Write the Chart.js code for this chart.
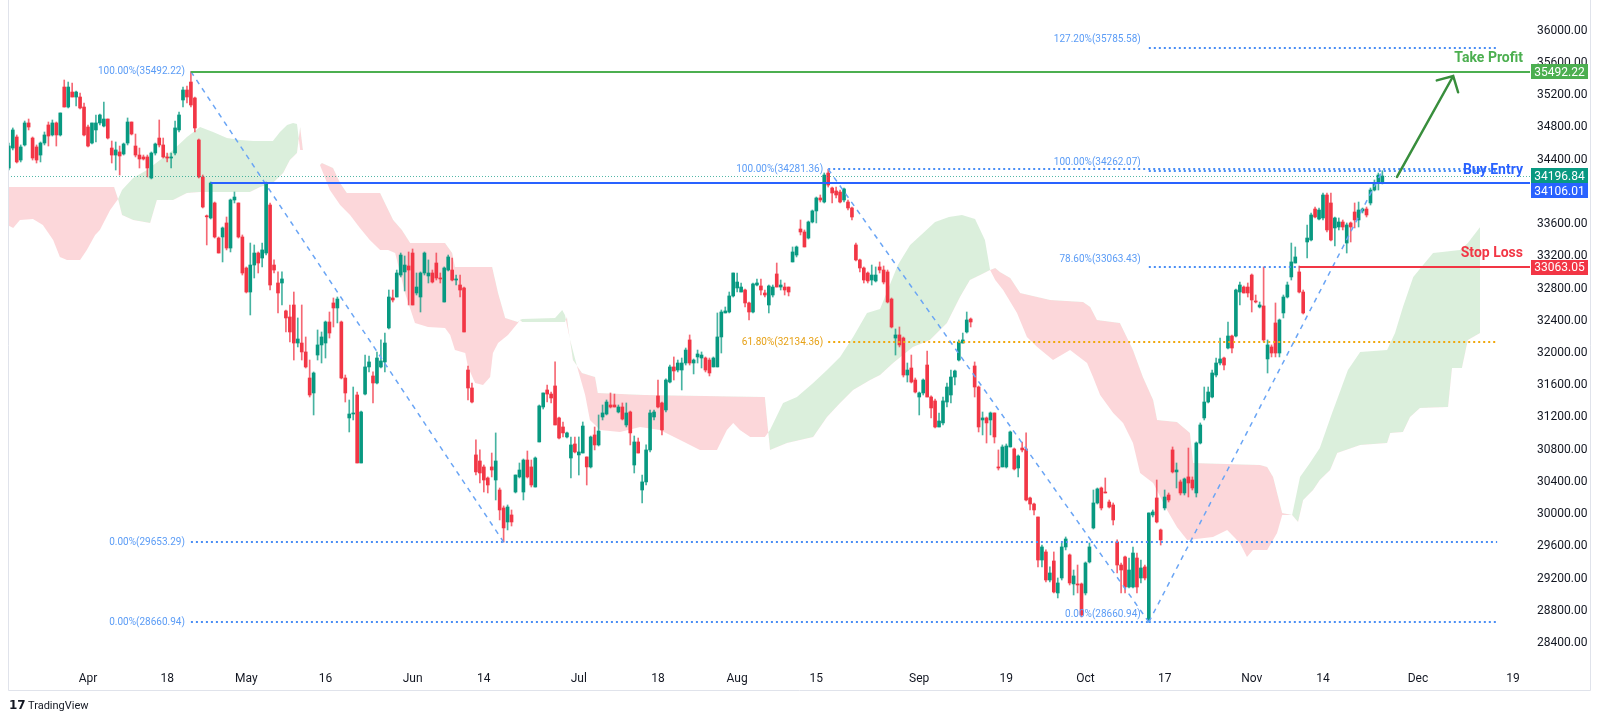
<!DOCTYPE html>
<html>
<head>
<meta charset="utf-8">
<script src="https://cdn.jsdelivr.net/npm/chart.js@4"></script>
<style>
  html, body { margin: 0; padding: 0; background: #fff; }
  canvas { display: block; }
</style>
</head>
<body>
<canvas id="chart" width="1600" height="721"></canvas>
<script>
// half-day candles, bar 0 is the first candle on the left, bar 20 = Apr 1
const open = [
34296,34544,34681,34395,34582,34855,34668,34557,34457,34606,
34830,34706,34855,34706,35301,35053,35239,35177,35177,35053,
34805,34606,34768,34855,34817,34904,34544,34457,34495,34470,
34606,34867,34569,34457,34433,34433,34172,34482,34668,34582,
34433,34420,34482,34768,35140,35264,35363,35165,34644,34185,
33700,33676,33862,33427,33440,33614,33303,33899,33862,33440,
33055,32757,33092,33241,33179,33241,33837,33092,32869,32869,
32522,32447,32596,32124,32124,32013,31690,31504,31975,32100,
32124,32385,32621,32559,32385,31690,31194,31243,31479,30635,
31491,31827,31715,31628,31827,31889,32311,32683,32695,32968,
33006,33080,33241,32745,32695,32993,32956,32993,33117,32931,
32633,33030,33030,32906,32844,32807,31789,31566,30735,30660,
30586,30449,30586,30424,30300,30077,29903,29990,30275,30462,
30275,30672,30586,30337,30896,31330,31541,31491,31591,31194,
31082,30958,30697,30871,30735,30759,30710,30586,30983,30859,
31206,31243,31355,31355,31268,31330,31107,31268,30610,30896,
30300,30400,30797,31206,31467,31380,31293,31640,31827,31789,
31789,31876,32162,31876,31951,31938,31938,31913,31827,31827,
32199,32497,32509,32708,32807,32757,32782,32621,32509,32844,
32832,32745,32596,32720,32981,32819,32819,32819,33130,33216,
33539,33502,33427,33626,33763,33924,33874,34234,34048,34011,
33998,33899,33874,33800,33341,33155,33055,32993,32906,32894,
33068,33030,33006,32670,32186,32224,32186,31727,31814,31665,
31454,31504,31851,31454,31405,31082,31132,31392,31479,31702,
31913,32124,32261,32422,31839,31578,31169,31194,31169,31256,
30586,30586,30586,30834,30809,30573,30821,30809,30201,30126,
29965,29431,29531,29183,29419,29022,29208,29593,29494,29134,
29134,29134,29022,29407,29829,30139,30325,30275,30151,30114,
29655,29369,29469,29096,29096,29456,29208,29345,28687,29990,
30201,29804,30077,30238,30797,30524,30400,30263,30462,30424,
30263,30883,31194,31392,31454,31727,31876,31938,32062,32211,
32211,32757,32819,32819,32968,32646,32571,32584,31926,32075,
32373,32000,32497,32695,32944,33117,33006,32757,33378,33403,
33787,33663,33676,33961,33862,33552,33564,33626,33365,33614,
33750,33651,33763,33787,33862,34023,34110,34110
];
const high = [
34606,34793,34706,34582,34879,34904,34681,34582,34619,34743,
34867,34892,34867,34979,35388,35363,35351,35252,35227,35103,
34830,34855,34954,34966,35115,34904,34631,34619,34569,34606,
34917,34867,34718,34544,34457,34457,34495,34606,34892,34668,
34482,34482,34879,34991,35301,35314,35492.22,35177,34656,34209,
33713,34122,33874,33440,33564,33688,33911,33998,33862,33465,
33068,33365,33341,33254,33365,34122,33862,33155,33006,33006,
32534,32596,32757,32435,32596,32199,31913,31765,32286,32261,
32397,32509,32683,32695,32397,31727,31417,31578,31516,31280,
31975,31963,31765,32013,32162,32248,32782,32782,33030,33241,
33204,33254,33291,32993,33006,33254,33155,33030,33241,32993,
33068,33216,33179,32968,32968,32819,31839,31628,30921,30797,
30610,30462,30759,31008,30325,30102,30114,30052,30486,30635,
30685,30784,30672,30710,31355,31504,31603,31516,31889,31206,
31144,31020,30958,30958,30958,31144,30710,30970,31082,31231,
31355,31417,31504,31491,31355,31380,31380,31280,30970,30945,
30486,30859,31293,31293,31665,31392,31678,31851,31951,31913,
31938,32062,32224,31926,32037,32013,31951,31938,31951,32497,
32534,32571,32757,32993,32993,32869,32794,32633,32869,32919,
32919,32782,32844,32844,33117,32906,32869,32819,33316,33328,
33651,33527,33638,33775,33936,33961,34234,34281.36,34060,34060,
34023,34048,33899,33812,33365,33167,33068,33006,33092,33068,
33130,33080,33030,32683,32298,32323,32199,31876,31975,31690,
31516,31678,32025,31467,31429,31256,31454,31628,31789,31789,
32162,32248,32509,32435,31889,31591,31268,31206,31268,31256,
30797,30859,30871,31032,30821,30735,30896,31008,30213,30139,
29965,29617,29556,29345,29531,29208,29642,29717,29506,29307,
29369,29146,29407,29642,30300,30325,30337,30449,30176,30139,
29680,29394,29481,29456,29593,29518,29431,29369,30015,30052,
30424,29816,30300,30263,30834,30635,30424,30449,30821,30462,
30896,31132,31578,31578,31789,31938,32186,31951,32385,32224,
32794,32881,32832,32869,32981,32720,32633,33068,32162,32100,
32621,32422,32720,32881,33365,33316,33080,32782,33589,33738,
33812,33800,33986,33986,33986,33688,33676,33651,33614,33626,
33862,33874,33800,33812,34048,34147,34234,34262.07
];
const low = [
34271,34520,34358,34371,34569,34768,34395,34358,34371,34582,
34569,34693,34569,34693,35053,35041,35177,35066,35028,34693,
34557,34594,34619,34830,34805,34656,34358,34271,34209,34457,
34582,34706,34433,34296,34395,34185,34160,34457,34557,34420,
34371,34296,34457,34743,35053,35103,35053,34743,34172,33800,
33341,33663,33427,33241,33130,33279,33254,33862,33427,32968,
32745,32472,32931,32993,33068,33216,32782,32993,32497,32596,
32261,32137,31913,32075,31913,31814,31454,31231,31913,31876,
31938,32186,32323,32373,31678,31392,31020,31169,30635,30635,
31479,31765,31380,31616,31814,31765,32298,32633,32695,32944,
32770,32596,32596,32720,32509,32968,32869,32869,32906,32869,
32633,33018,32894,32844,32695,32261,31417,31380,30486,30387,
30275,30263,30462,30176,29928,29653.29,29804,29853,30263,30449,
30176,30449,30337,30337,30896,31305,31392,31380,31107,30933,
30958,30945,30449,30759,30486,30759,30362,30573,30797,30846,
31169,31231,31318,31330,31256,31169,31082,30859,30511,30759,
30139,30362,30772,31169,31318,30983,31268,31628,31665,31765,
31541,31851,31851,31740,31876,31814,31765,31715,31827,31827,
32000,32497,32497,32695,32757,32757,32571,32410,32497,32832,
32720,32695,32497,32695,32819,32782,32720,32708,33130,33192,
33465,33316,33415,33614,33614,33874,33862,34060,33862,33924,
33862,33874,33775,33651,33142,33006,32869,32869,32844,32881,
32993,32857,32621,32311,31975,32075,31702,31640,31628,31504,
31231,31479,31454,31194,31070,31082,31107,31330,31380,31603,
31901,32124,32248,32323,31454,31020,30983,30883,30983,30883,
30548,30586,30573,30834,30548,30462,30772,30164,30052,29990,
29345,29345,29158,29158,29022,28960,29183,29556,29121,28997,
29022,28724,28997,29394,29816,30126,30052,30263,30077,29866,
29270,29022,29022,29084,29084,29022,29146,29183,28660.94,29965,
29891,29617,30052,30151,30511,30325,30238,30238,30213,30300,
30213,30871,31169,31380,31442,31702,31851,31789,32050,32000,
32199,32596,32745,32695,32509,32621,32559,32137,31752,31951,
31951,31951,32435,32683,32906,33117,32745,32484,33179,33390,
33676,33651,33651,33502,33390,33328,33527,33527,33241,33378,
33552,33564,33738,33688,33837,34011,34023,34098
];
const close = [
34569,34768,34371,34557,34855,34805,34420,34395,34606,34706,
34693,34855,34706,34979,35053,35301,35177,35239,35041,34706,
34569,34855,34855,34954,34904,34668,34457,34520,34445,34594,
34867,34718,34457,34408,34408,34296,34482,34594,34582,34433,
34420,34433,34793,34954,35264,35177,35078,34793,34185,33812,
33690,34110,33440,33241,33552,33303,33899,33936,33440,32993,
32757,33092,33241,33117,33279,34110,32844,33030,32745,32919,
32435,32261,32124,32174,32013,31827,31479,31752,32100,32199,
32385,32248,32559,32670,31690,31504,31243,31256,30635,31268,
31827,31889,31628,31938,31901,32124,32695,32658,32993,33216,
33092,33030,32596,32819,32993,33241,32993,32881,32931,32919,
33055,33192,32906,32919,32782,32261,31566,31392,30524,30511,
30424,30362,30548,30660,30052,29829,30089,29903,30486,30548,
30672,30462,30362,30697,31343,31504,31491,31442,31107,30945,
31008,31008,30859,30772,30772,31094,30586,30958,30859,31032,
31256,31392,31330,31330,31330,31181,31256,31008,30896,30759,
30400,30797,31256,31268,31330,31045,31665,31827,31777,31876,
31876,32037,31876,31913,31988,31975,31789,31752,31938,32199,
32509,32522,32708,32993,32881,32819,32621,32509,32857,32869,
32782,32720,32832,32819,32819,32844,32782,32757,33254,33316,
33502,33316,33626,33763,33924,33899,34209,34085,33986,33961,
33874,34036,33800,33688,33155,33055,32906,32894,32968,32968,
33030,32881,32633,32323,32224,32100,31727,31789,31640,31516,
31504,31665,31454,31318,31082,31156,31405,31578,31702,31777,
32137,32162,32410,32385,31578,31082,31194,31132,31256,30958,
30573,30834,30846,31020,30561,30722,30797,30176,30126,30052,
29431,29593,29183,29270,29034,29146,29593,29692,29146,29233,
29121,28749,29394,29593,30139,30313,30077,30263,30089,29928,
29369,29307,29096,29307,29518,29096,29332,29208,30015,30027,
29903,29680,30213,30176,30524,30548,30263,30437,30387,30325,
30883,31107,31392,31516,31752,31876,31926,31851,32211,32062,
32782,32844,32745,32745,32658,32633,32596,32162,32100,32000,
32000,32410,32695,32844,33130,33192,32757,32497,33427,33713,
33688,33775,33961,33527,33403,33676,33626,33564,33589,33564,
33651,33775,33787,33713,34023,34110,34209,34196.84
];

// Ichimoku cloud edges (bar position, price)
const spanAx = [-0.3,1.1,2.8,6.1,8.6,11.2,12.9,14.7,18.0,19.7,21.8,23.0,25.6,27.6,
  28.6,31.4,34.9,38.2,41.5,45.0,48.3,51.6,55.1,58.4,61.7,66.7,68.5,70.3,71.8,72.8,73.6,74.3,78.6,
  79.1,81.1,83.7,86.2,88.7,91.2,93.8,95.8,97.6,100.1,102.6,105.9,110.2,111.5,112.7,115.3,116.0,117.8,119.8,121.6,122.3,123.6,126.1,128.6,129.1,
  129.7,138.0,139.8,140.5,
  141.0,141.8,143.8,145.6,146.8,149.4,154.4,159.5,164.5,169.6,174.6,178.9,181.4,183.0,184.7,187.3,191.0,
  192.3,195.6,199.1,203.2,206.7,210.0,213.3,216.8,220.1,224.6,227.7,231.0,234.0,237.5,240.8,244.1,246.6,247.9,
  249.2,251.2,254.7,257.2,259.8,263.8,268.1,272.4,273.9,275.7,279.0,281.5,284.0,285.8,289.1,292.6,295.1,297.7,304.2,307.8,311.0,312.8,314.3,317.9,320.4,321.7,
  324.2,326.2,328.7,331.2,334.3,335.8,338.3,341.4,348.2,350.2,352.2,354.8,359.8,362.1,366.6,368.6,371.7];
const spanAy = [33589,33552,33651,33663,33589,33403,33192,33155,33155,33279,33465,33527,33775,33911,
  34023,34172,34271,34395,34520,34681,34805,34743,34668,34644,34631,34631,34743,34830,34855,34842,34520,34520,34333,
  34271,34023,33837,33713,33552,33403,33279,33279,33241,32745,32373,32323,32311,32224,32037,32000,31827,31628,31603,31702,32000,32124,32224,32373,32410,
  32422,32435,32534,32472,
  32348,32162,31789,31479,31169,31045,31020,31082,31045,30921,30797,30797,31045,31132,31045,30958,30958,
  31045,31380,31454,31628,31789,31951,32199,32497,32546,33092,33341,33489,33626,33688,33713,33663,33403,33030,
  32906,32782,32497,32199,32075,31913,32037,31876,31702,31479,31256,31132,30883,30511,30387,30052,29841,29680,29717,29804,29642,29469,29556,29556,29767,29990,
  29990,30462,30635,30821,31256,31454,31789,32013,32037,32248,32571,32944,33241,33254,33279,33365,33564];
const spanBx = [-0.3,26.6,27.6,
  28.6,31.4,35.7,37.4,41.5,45.0,48.3,60.9,63.5,66.7,69.3,71.0,72.8,73.6,74.3,78.6,
  79.1,81.9,83.7,85.4,93.8,95.5,97.1,99.3,101.4,110.2,112.0,112.7,122.1,123.6,125.4,128.6,129.1,
  129.7,140.5,
  141.0,141.3,142.5,144.8,148.1,148.8,160.7,191.0,
  192.3,196.6,203.2,206.7,210.0,213.3,217.6,220.1,223.4,228.4,232.7,237.0,240.3,242.8,245.4,247.9,
  249.2,250.4,253.0,255.5,263.1,271.4,273.2,274.9,280.7,284.0,286.5,289.1,290.1,295.1,298.4,299.2,316.1,317.9,319.4,321.7,
  324.2,325.7,327.0,329.5,331.2,333.8,335.6,341.4,348.2,349.0,352.2,354.0,356.5,363.6,364.6,367.1,368.6,371.7];
const spanBy = [34060,34060,33911,
  33713,33651,33614,33899,33899,33986,33998,33998,34060,34110,34234,34395,34482,34805,34520,34333,
  34358,34296,34110,33986,33986,33812,33651,33527,33365,33365,33241,33068,33068,32745,32435,32385,32410,
  32385,32385,
  32447,32323,31913,31752,31702,31504,31479,31454,
  30797,30883,30958,31206,31380,31541,31665,31727,31876,32075,32162,32373,32695,32906,32968,33030,
  33055,33006,32931,32745,32658,32633,32571,32410,32373,32037,31702,31417,31169,31144,31008,30635,30610,30586,30462,30015,
  29990,29903,30176,30300,30424,30548,30759,30859,30883,31008,31020,31206,31318,31330,31814,31814,32162,32248];

// time axis and price axis labels
const timeTickBars = [20,40,60,80,102,120,144,164,184,204,230,252,272,292,314,332,356,380];
const timeTickLabels = ['Apr','18','May','16','Jun','14','Jul','18','Aug','15','Sep','19','Oct','17','Nov','14','Dec','19'];
const priceTicks = [28400,28800,29200,29600,30000,30400,30800,31200,31600,32000,32400,32800,33200,33600,34000,34400,34800,35200,35600,36000];

// fibonacci levels: [price, text]
const fibFirst = [[35492.22,'100.00%(35492.22)'],[29653.29,'0.00%(29653.29)'],[28660.94,'0.00%(28660.94)']];
const fibSecond = [[34281.36,'100.00%(34281.36)'],[32134.36,'61.80%(32134.36)']];
const fibThird = [[35785.58,'127.20%(35785.58)'],[34262.07,'100.00%(34262.07)'],[33063.43,'78.60%(33063.43)'],[28660.94,'0.00%(28660.94)']];
const fibStartBars = [46, 207, 288];
const fibEndBar = 376;

// trend lines [bar, price] -> [bar, price]
const trendLines = [
  [[46,35492.22],[125,29653.29]],
  [[207,34281.36],[288,28660.94]],
  [[288,28660.94],[347,34262.07]]
];

// trade plan
const takeProfit = 35492.22, takeProfitBar = 46;
const buyEntry = 34106.01, buyEntryBar = 51;
const stopLoss = 33063.05, stopLossBar = 326;
const lastPrice = close[close.length - 1];
const arrowFrom = [350.7, 34185], arrowTo = [364.9, 35438];

const UP = '#089981', DOWN = '#f23645';
const isUp = open.map((o, i) => close[i] >= o);

const bodies = open.map((o, i) => ({x: i, y: [o, close[i]]}));
const wicks = open.map((o, i) => ({x: i, y: [low[i], high[i]]}));

const overlay = {
  id: 'overlay',
  beforeDraw(chart) {
    const ctx = chart.ctx;
    ctx.save();
    ctx.fillStyle = '#fff';
    ctx.fillRect(0, 0, chart.width, chart.height);
    ctx.restore();
  },
  afterDatasetsDraw(chart) {
    const {ctx, chartArea: a, scales: {x, y}} = chart;
    const X = v => x.getPixelForValue(v);
    const Y = v => y.getPixelForValue(v);
    ctx.save();
    ctx.beginPath();
    ctx.rect(a.left, a.top, a.right - a.left, a.bottom - a.top);
    ctx.clip();

    function level(p, from, to, color, width, dash) {
      const yy = width % 2 ? Math.round(Y(p)) + 0.5 : Math.round(Y(p));
      ctx.strokeStyle = color;
      ctx.lineWidth = width;
      ctx.setLineDash(dash);
      ctx.beginPath();
      ctx.moveTo(from, yy);
      ctx.lineTo(to, yy);
      ctx.stroke();
    }
    function label(text, px, py, color, font, align) {
      ctx.setLineDash([]);
      ctx.font = font;
      ctx.fillStyle = color;
      ctx.textAlign = align;
      ctx.textBaseline = 'middle';
      ctx.fillText(text, px, py);
    }

    const blueDots = '#4a8ef5', blueText = '#5b9cf6';
    const orangeDots = '#f0a80c', orangeText = '#e6a117';
    const fibFont = '10px Roboto';

    // last price line
    level(lastPrice, a.left, a.right, 'rgba(8,153,129,0.7)', 1, [1, 2]);

    fibFirst.forEach(([p, t]) => {
      const end = p === fibThird[3][0] ? X(fibStartBars[2]) : X(fibEndBar);
      level(p, X(fibStartBars[0]), end, blueDots, 2, [2, 3]);
      label(t, X(fibStartBars[0]) - 6, Y(p), blueText, fibFont, 'right');
    });
    fibSecond.forEach(([p, t], k) => {
      const dots = k === 1 ? orangeDots : blueDots;
      const txt = k === 1 ? orangeText : blueText;
      level(p, X(fibStartBars[1]), X(fibEndBar), dots, 2, [2, 3]);
      label(t, X(fibStartBars[1]) - 5, Y(p), txt, fibFont, 'right');
    });
    fibThird.forEach(([p, t]) => {
      level(p, X(fibStartBars[2]), X(fibEndBar), blueDots, 2, [2, 3]);
      label(t, X(fibStartBars[2]) - 8, Y(p) - 8, blueText, fibFont, 'right');
    });

    // dashed trend lines
    ctx.strokeStyle = '#6aa5f5';
    ctx.lineWidth = 1.5;
    ctx.setLineDash([5, 5]);
    trendLines.forEach(([s, e]) => {
      ctx.beginPath();
      ctx.moveTo(X(s[0]), Y(s[1]));
      ctx.lineTo(X(e[0]), Y(e[1]));
      ctx.stroke();
    });

    // trade levels
    level(takeProfit, X(takeProfitBar), a.right, '#4caf50', 2, []);
    level(buyEntry, X(buyEntryBar), a.right, '#2962ff', 2, []);
    level(stopLoss, X(stopLossBar), a.right, '#f23645', 2, []);

    // arrow
    const sx = X(arrowFrom[0]), sy = Y(arrowFrom[1]);
    const tx = X(arrowTo[0]), ty = Y(arrowTo[1]);
    const ang = Math.atan2(ty - sy, tx - sx);
    ctx.setLineDash([]);
    ctx.strokeStyle = '#388e3c';
    ctx.lineWidth = 2.5;
    ctx.lineCap = 'round';
    ctx.beginPath();
    ctx.moveTo(sx, sy);
    ctx.lineTo(tx, ty);
    ctx.moveTo(tx - 17 * Math.cos(ang - 0.8), ty - 17 * Math.sin(ang - 0.8));
    ctx.lineTo(tx, ty);
    ctx.lineTo(tx - 17 * Math.cos(ang + 0.8), ty - 17 * Math.sin(ang + 0.8));
    ctx.stroke();

    const bold = 'bold 14px Roboto';
    label('Take Profit', a.right - 7, Y(takeProfit) - 13, '#4caf50', bold, 'right');
    label('Buy Entry', a.right - 7, Y(buyEntry) - 13, '#2962ff', bold, 'right');
    label('Stop Loss', a.right - 7, Y(stopLoss) - 14, '#f23645', bold, 'right');
    ctx.restore();
  },
  afterDraw(chart) {
    const {ctx, chartArea: a, scales: {y}} = chart;
    const Y = v => y.getPixelForValue(v);
    ctx.save();

    // price scale badges
    const bx = a.right + 1, bw = 57, bh = 15;
    function badge(text, cy, color) {
      ctx.fillStyle = color;
      ctx.fillRect(bx, Math.round(cy - bh / 2), bw, bh);
      ctx.fillStyle = '#fff';
      ctx.font = '12px Roboto';
      ctx.textAlign = 'center';
      ctx.textBaseline = 'middle';
      ctx.fillText(text, bx + bw / 2, Math.round(cy) + 0.5);
    }
    badge(takeProfit.toFixed(2), Y(takeProfit), '#4caf50');
    const lastY = Y(lastPrice);
    badge(lastPrice.toFixed(2), lastY, UP);
    badge(buyEntry.toFixed(2), Math.max(Y(buyEntry), lastY + bh), '#2962ff');
    badge(stopLoss.toFixed(2), Y(stopLoss), '#f23645');

    // outer frame
    ctx.strokeStyle = '#e0e3eb';
    ctx.lineWidth = 1;
    ctx.beginPath();
    ctx.moveTo(a.left + 0.5, 0);
    ctx.lineTo(a.left + 0.5, 690.5);
    ctx.lineTo(1590.5, 690.5);
    ctx.lineTo(1590.5, 0);
    ctx.stroke();

    // logo
    ctx.fillStyle = '#131722';
    ctx.textBaseline = 'middle';
    ctx.textAlign = 'left';
    ctx.font = '900 12px "DejaVu Sans"';
    ctx.fillText('17', 9, 706);
    ctx.font = '11px Roboto';
    ctx.fillText('TradingView', 28, 706);
    ctx.restore();
  }
};

Chart.defaults.font.family = 'Roboto';
Chart.defaults.font.size = 12;
Chart.defaults.color = '#131722';

new Chart(document.getElementById('chart'), {
  type: 'bar',
  data: {
    datasets: [
      {
        type: 'line',
        data: spanAx.map((v, k) => ({x: v, y: spanAy[k]})),
        borderWidth: 0,
        pointRadius: 0,
        fill: {target: 1, above: 'rgba(76,175,80,0.2)', below: 'rgba(242,54,69,0.2)'},
        order: 5
      },
      {
        type: 'line',
        data: spanBx.map((v, k) => ({x: v, y: spanBy[k]})),
        borderWidth: 0,
        pointRadius: 0,
        fill: false,
        order: 6
      },
      {
        data: wicks,
        backgroundColor: isUp.map(u => u ? 'rgba(8,153,129,0.75)' : 'rgba(242,54,69,0.75)'),
        barThickness: 1,
        grouped: false,
        order: 2
      },
      {
        data: bodies,
        backgroundColor: isUp.map(u => u ? UP : DOWN),
        barThickness: 3,
        minBarLength: 1,
        grouped: false,
        order: 1
      }
    ]
  },
  options: {
    responsive: false,
    animation: false,
    events: [],
    layout: {padding: {left: 8, right: 10, top: 0, bottom: 31}},
    plugins: {legend: {display: false}, tooltip: {enabled: false}},
    scales: {
      x: {
        type: 'linear',
        offset: false,
        min: -0.21,
        max: 384.3,
        grid: {display: false, drawTicks: false, offset: false},
        border: {display: false},
        ticks: {
          autoSkip: false,
          maxRotation: 0,
          padding: 7,
          color: '#131722',
          callback: (v, i) => timeTickLabels[i]
        },
        afterBuildTicks: s => { s.ticks = timeTickBars.map(v => ({value: v})); },
        afterFit: s => { s.height = 25; s.paddingLeft = 0; s.paddingRight = 0; }
      },
      y: {
        type: 'linear',
        position: 'right',
        min: 28128,
        max: 36381,
        grid: {display: false, drawTicks: false},
        border: {display: false},
        ticks: {
          padding: 7,
          color: '#131722',
          callback: v => Number(v).toFixed(2)
        },
        afterBuildTicks: s => { s.ticks = priceTicks.map(v => ({value: v})); },
        afterFit: s => { s.width = 60; s.paddingTop = 0; s.paddingBottom = 0; }
      }
    }
  },
  plugins: [overlay]
});
</script>
</body>
</html>
